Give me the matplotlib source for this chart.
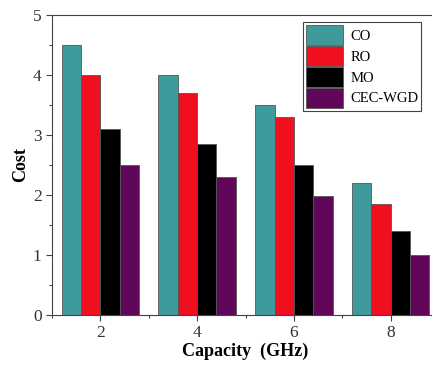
import matplotlib.pyplot as plt
import numpy as np
from matplotlib.ticker import MultipleLocator

# Data
capacity = [2, 4, 6, 8]
series = ['CO', 'RO', 'MO', 'CEC-WGD']
co = [4.5, 4.0, 3.5, 2.2]
ro = [4.0, 3.7, 3.3, 1.85]
mo = [3.1, 2.85, 2.5, 1.4]
cec_wgd = [2.5, 2.3, 1.98, 1.0]
colors = ['#3f9a9c', '#f00f1e', '#000000', '#60075a']

plt.rcParams['font.family'] = ['Liberation Serif', 'DejaVu Serif']

fig = plt.figure(figsize=(4.32, 3.65), dpi=100)
# axes extends past the right edge like the cropped original
ax = fig.add_axes([52 / 432, 50 / 365, 387 / 432, 300 / 365])

x = np.array(capacity, dtype=float)
width = 0.4
offsets = [-0.6, -0.2, 0.2, 0.6]
for vals, name, c, off in zip([co, ro, mo, cec_wgd], series, colors, offsets):
    ax.bar(x + off, vals, width, color=c, edgecolor='#555555', linewidth=0.6, label=name)

ax.set_xlim(1, 9)
ax.set_ylim(0, 5)
ax.set_xticks(capacity)
ax.xaxis.set_minor_locator(MultipleLocator(1))
ax.yaxis.set_major_locator(MultipleLocator(1))
ax.yaxis.set_minor_locator(MultipleLocator(0.5))
ax.tick_params(axis='both', which='major', direction='out', length=4, width=0.8,
               colors='#444444', labelsize=12.5, labelcolor='#333333')
ax.tick_params(axis='both', which='minor', direction='out', length=2.5, width=0.8,
               colors='#444444')
for s in ax.spines.values():
    s.set_color('#444444')
    s.set_linewidth(0.8)

ax.set_xlabel('Capacity  (GHz)', fontsize=13, fontweight='bold', labelpad=1)
ax.set_ylabel('Cost', fontsize=13, fontweight='bold', labelpad=3)

leg = ax.legend(loc='upper left', bbox_to_anchor=(251 / 387, 1 - 7 / 300),
                fontsize=10.5, handlelength=2.55, handleheight=1.75, labelspacing=0.05,
                handletextpad=0.5, borderpad=0.2, borderaxespad=0, fancybox=False,
                framealpha=1)
leg.get_frame().set_edgecolor('#444444')
leg.get_frame().set_linewidth(0.8)

fig.savefig('out.png', dpi=100)
